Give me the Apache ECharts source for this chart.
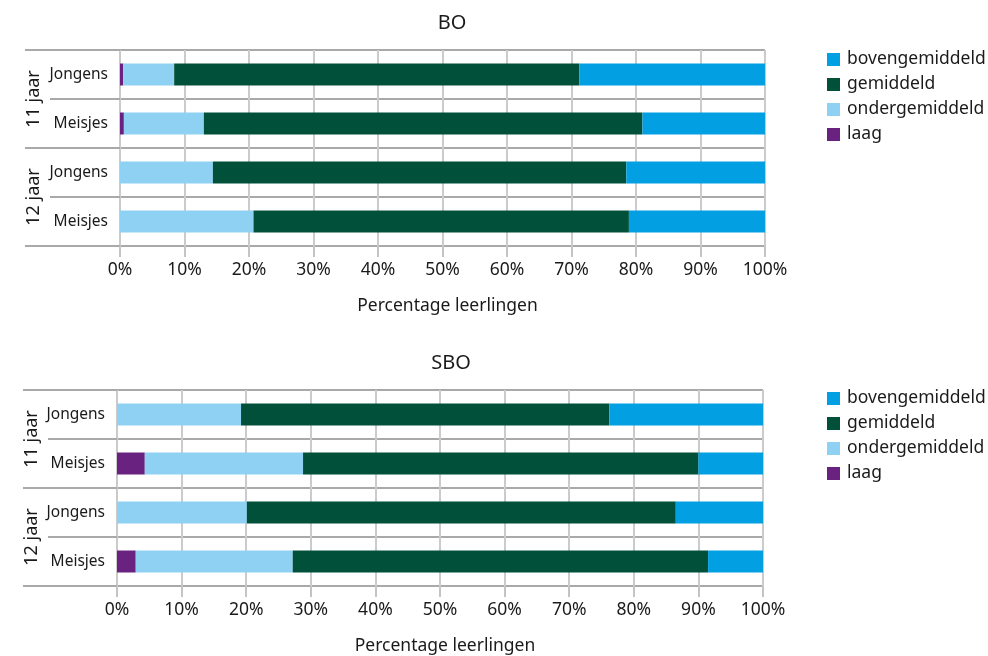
<!DOCTYPE html>
<html>
<head>
<meta charset="utf-8">
<script src="https://cdn.jsdelivr.net/npm/echarts@6/dist/echarts.min.js"></script>
<style>
  html, body { margin: 0; padding: 0; background: #fff; }
  #chart { width: 988px; height: 656px; }
</style>
</head>
<body>
<div id="chart"></div>
<script>
// Rows per panel (top to bottom) and the age groups they belong to
const rowLabels = ['Jongens', 'Meisjes', 'Jongens', 'Meisjes'];
const ageGroups = ['11 jaar', '12 jaar'];
const levelNames = ['laag', 'ondergemiddeld', 'gemiddeld', 'bovengemiddeld'];
const xTicks = [0, 10, 20, 30, 40, 50, 60, 70, 80, 90, 100];

// BO: percentage of pupils per level, rows in rowLabels order
const boLaag = [0.5, 0.6, 0, 0];
const boOnder = [7.9, 12.4, 14.4, 20.7];
const boGemiddeld = [62.8, 68.0, 64.1, 58.2];
const boBoven = [28.8, 19.0, 21.5, 21.1];

// SBO
const sboLaag = [0, 4.3, 0, 2.9];
const sboOnder = [19.2, 24.5, 20.1, 24.3];
const sboGemiddeld = [57.0, 61.2, 66.4, 64.3];
const sboBoven = [23.8, 10.0, 13.5, 8.5];

const levelColors = {
  laag: '#6a2280',
  ondergemiddeld: '#8fd1f3',
  gemiddeld: '#01503a',
  bovengemiddeld: '#02a0e2'
};

const FONT = 'Noto Sans';
const TEXT = '#1a1a1a';

function panelSeries(values, gridIdx) {
  return levelNames.map((name, i) => ({
    name: name,
    type: 'bar',
    stack: 'panel' + gridIdx,
    xAxisIndex: gridIdx,
    yAxisIndex: gridIdx * 2,
    barWidth: 22,
    itemStyle: { color: levelColors[name] },
    emphasis: { disabled: true },
    data: values[i]
  }));
}

function valueAxis(gridIdx) {
  return {
    type: 'value',
    gridIndex: gridIdx,
    min: 0,
    max: 100,
    interval: 10,
    name: 'Percentage leerlingen',
    nameLocation: 'middle',
    nameGap: 51,
    nameTextStyle: { fontFamily: FONT, fontSize: 17.5, color: TEXT, padding: [0, 0, 0, 10] },
    axisLine: { show: false },
    axisTick: { show: true, length: 11, lineStyle: { color: '#c4c4c4', width: 2 } },
    axisLabel: {
      margin: 15,
      fontFamily: FONT, fontSize: 17.5, color: TEXT,
      formatter: v => xTicks.includes(v) ? v + '%' : ''
    },
    splitLine: { show: true, lineStyle: { color: '#cbcbcb', width: 2 } }
  };
}

function rowAxis(gridIdx, tickLen) {
  return {
    type: 'category',
    gridIndex: gridIdx,
    inverse: true,
    data: rowLabels,
    axisLine: { show: false },
    axisTick: { show: true, length: tickLen, lineStyle: { color: '#a9a9a9', width: 2 } },
    axisLabel: { margin: 12, fontFamily: FONT, fontSize: 15.5, color: TEXT },
    splitLine: { show: true, lineStyle: { color: '#a9a9a9', width: 2 } }
  };
}

function groupAxis(gridIdx, tickLen, margin) {
  return {
    type: 'category',
    gridIndex: gridIdx,
    inverse: true,
    position: 'left',
    data: ageGroups,
    axisLine: { show: false },
    axisTick: { show: true, length: tickLen, lineStyle: { color: '#a9a9a9', width: 2 } },
    axisLabel: { rotate: 90, margin: margin, fontFamily: FONT, fontSize: 18, color: TEXT },
    splitLine: { show: false }
  };
}

function legendAt(top) {
  return {
    orient: 'vertical',
    left: 822,
    top: top,
    itemWidth: 13,
    itemHeight: 13,
    itemGap: 6,
    icon: 'rect',
    data: ['bovengemiddeld', 'gemiddeld', 'ondergemiddeld', 'laag'],
    textStyle: { fontFamily: FONT, fontSize: 17.5, color: TEXT, lineHeight: 19, padding: [0, 0, 0, 2] },
    selectedMode: false
  };
}

const chart = echarts.init(document.getElementById('chart'), null, { renderer: 'canvas' });

chart.setOption({
  animation: false,
  backgroundColor: '#ffffff',
  title: [
    { text: 'BO', left: 447, top: 8, textAlign: 'center',
      textStyle: { fontFamily: FONT, fontSize: 20, fontWeight: 'normal', color: TEXT } },
    { text: 'SBO', left: 446, top: 348, textAlign: 'center',
      textStyle: { fontFamily: FONT, fontSize: 20, fontWeight: 'normal', color: TEXT } }
  ],
  legend: [legendAt(45), legendAt(384)],
  grid: [
    { left: 120, right: 223, top: 50, height: 196 },
    { left: 117, right: 225, top: 390, height: 197 }
  ],
  xAxis: [valueAxis(0), valueAxis(1)],
  yAxis: [
    rowAxis(0, 70),
    groupAxis(0, 95, 77),
    rowAxis(1, 69),
    groupAxis(1, 94, 76)
  ],
  series: [
    ...panelSeries([boLaag, boOnder, boGemiddeld, boBoven], 0),
    ...panelSeries([sboLaag, sboOnder, sboGemiddeld, sboBoven], 1)
  ]
});
</script>
</body>
</html>
